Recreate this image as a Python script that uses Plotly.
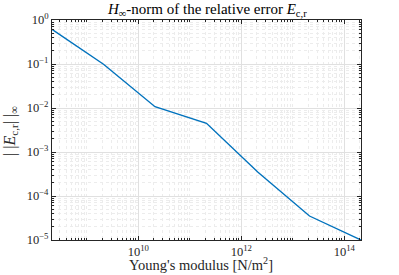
import numpy as np
import plotly.graph_objects as go

youngs_modulus = [2.11e8, 2.11e9, 2.11e10, 2.11e11, 2.11e12, 2.11e13, 2.11e14]
hinf_error = [0.615, 0.0985, 0.0107, 0.00449, 3.46e-4, 3.51e-5, 1.0e-5]

x_tick_exps = [10, 12, 14]
y_tick_exps = [0, -1, -2, -3, -4, -5]

def pow_label(e):
    s = str(e).replace("-", "\u2212")
    return "10<sup>" + s + "</sup>"

def minor_vals(lo, hi, majors):
    vals = []
    for k in range(lo, hi + 1):
        for m in range(1, 10):
            v = m * 10.0 ** k
            if m == 1 and k in majors:
                continue
            vals.append(v)
    return vals

font_family = "Liberation Serif, DejaVu Serif, serif"
axis_col = "#262626"

# the page body margin is removed by post_script, so window pixels == figure pixels
FW, FH = 399, 275
L, R, T, B = 52, 361, 20, 240
W, H = R - L, B - T

def px_x(px):
    return (px - L) / W

def px_y(py):
    return (B - py) / H

fig = go.Figure()
fig.add_trace(go.Scatter(x=youngs_modulus, y=hinf_error, mode="lines",
                         line=dict(color="#0072BD", width=1.4), showlegend=False,
                         hoverinfo="skip"))

def minor_cfg(vals):
    return dict(tickvals=vals, showgrid=True, gridcolor="#ececec", griddash="dot",
                gridwidth=1, ticks="inside", ticklen=2, tickcolor=axis_col)

fig.update_xaxes(type="log", automargin=False,
                 range=[np.log10(youngs_modulus[0]), np.log10(youngs_modulus[-1])],
                 tickvals=[10.0 ** e for e in x_tick_exps],
                 ticktext=[pow_label(e) for e in x_tick_exps],
                 showline=True, linecolor=axis_col, linewidth=1, mirror="ticks",
                 ticks="inside", ticklen=4, tickcolor=axis_col,
                 showgrid=True, gridcolor="#e0e0e0", gridwidth=1,
                 zeroline=False, minor=minor_cfg(minor_vals(8, 14, x_tick_exps)),
                 tickfont=dict(family=font_family, size=12.5, color=axis_col))

fig.update_yaxes(type="log", range=[-5, 0], automargin=False,
                 tickvals=[10.0 ** e for e in y_tick_exps],
                 ticktext=[pow_label(e) for e in y_tick_exps],
                 showline=True, linecolor=axis_col, linewidth=1, mirror="ticks",
                 ticks="inside", ticklen=4, tickcolor=axis_col,
                 showgrid=True, gridcolor="#e0e0e0", gridwidth=1,
                 zeroline=False, minor=minor_cfg(minor_vals(-5, -1, y_tick_exps)),
                 tickfont=dict(family=font_family, size=12.5, color=axis_col))

fig.add_annotation(text="<i>H</i><sub>\u221e</sub>-norm of the relative error <i>E</i><sub>c,r</sub>",
                   xref="paper", yref="paper", x=px_x(207), y=px_y(10.5),
                   xanchor="center", yanchor="middle", showarrow=False,
                   font=dict(family=font_family, size=15, color="black"))
fig.add_annotation(text="Young's modulus [N/m<sup>2</sup>]", xref="paper", yref="paper",
                   x=px_x(201), y=px_y(264), xanchor="center", yanchor="middle",
                   showarrow=False, font=dict(family=font_family, size=14.5, color=axis_col))
fig.add_annotation(text="| |<i>E</i><sub>c,r</sub>| |<sub>\u221e</sub>", xref="paper", yref="paper",
                   x=px_x(10), y=px_y(131), xanchor="center", yanchor="middle",
                   textangle=-90, showarrow=False,
                   font=dict(family=font_family, size=16, color=axis_col))

fig.update_layout(
    width=FW, height=FH,
    margin=dict(l=L, r=FW - R, t=T, b=FH - B, autoexpand=False),
    paper_bgcolor="white", plot_bgcolor="white",
    hovermode=False,
)

fig.write_html("out.html",
               config={"displayModeBar": False},
               post_script="document.body.style.margin='0';document.body.style.overflow='hidden';")
